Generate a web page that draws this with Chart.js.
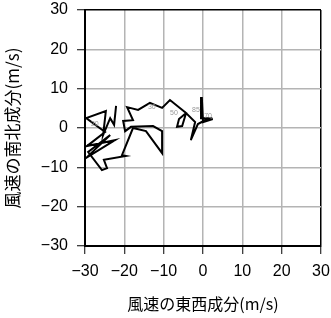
<!DOCTYPE html>
<html>
<head>
<meta charset="utf-8">
<script src="https://cdn.jsdelivr.net/npm/chart.js@4"></script>
<style>
  html, body { margin: 0; padding: 0; background: #fff; }
</style>
</head>
<body>
<canvas id="hodo" width="331" height="318"></canvas>
<script>
// hodograph: east-west (u) and north-south (v) wind components, m/s
let uWind = [1.0, 2.5, 0, -0.3, -0.5, 1.5, -1.3, -3.1, -2.0, -4.3, -5.3, -6.6, -6.1, -4.3,
    -8.4, -10.4, -13.5, -16.5, -19.3, -17.8, -20.3, -19.8, -18.3, -12.7, -10.4, -10.4,
    -14.5, -17.8, -20.6, -19.6, -25.2, -24.4, -25.7, -29.2, -23.6, -29.7, -22.4, -29.5,
    -24.9, -29.7, -24.7, -25.4, -23.6, -22.6, -22.1];
let vWind = [1.8, 2.3, 1.5, 7.9, 2.5, 2.5, 1.0, -3.1, 1.5, 3.8, 0.5, 0.3, 2.3, 3.8,
    7.1, 5.1, 6.4, 4.6, 5.3, 2.0, 1.8, -0.8, 0.3, 0.5, -0.8, -6.4,
    -0.8, 0, -6.9, -7.1, -8.1, -10.2, -10.7, -6.1, -1.8, -7.6, -3.1, -4.6,
    -1.0, 2.5, 4.3, -1.8, 2.5, 0.8, 5.6];
let levelNames = ['85', '70', '50', '30', '20'];
let levelU = [-1.8, 1.3, -7.4, -13, -27.5];
let levelV = [4.6, 3.1, 3.8, 5.3, 1.0];
let axisTicks = [-30, -20, -10, 0, 10, 20, 30];

let points = uWind.map((u, i) => ({ x: u, y: vWind[i] }));

let minus = v => v < 0 ? '\u2212' + Math.abs(v) : '' + v;
let gridColor = ctx => Math.abs(ctx.tick.value) === 30 ? '#000' : '#b4b4b4';

let levelLabels = {
    id: 'levelLabels',
    afterDatasetsDraw(chart) {
        let c = chart.ctx;
        let xs = chart.scales.x, ys = chart.scales.y;
        c.save();
        c.font = '7px "Liberation Sans"';
        c.fillStyle = '#999';
        c.textAlign = 'center';
        c.textBaseline = 'middle';
        levelNames.forEach((t, i) => {
            c.fillText(t, xs.getPixelForValue(levelU[i]), ys.getPixelForValue(levelV[i]));
        });
        c.restore();
    }
};

let hodoChart = new Chart(document.getElementById('hodo').getContext('2d'), {
    type: 'scatter',
    data: {
        datasets: [{
            data: points,
            showLine: true,
            borderColor: '#000',
            borderWidth: 2,
            pointRadius: 0,
            tension: 0
        }]
    },
    options: {
        responsive: false,
        animation: false,
        layout: { padding: { top: 10, right: 10, left: 0, bottom: 0 } },
        plugins: { legend: { display: false }, tooltip: { enabled: false } },
        scales: {
            x: {
                type: 'linear', min: -30, max: 30,
                afterBuildTicks: s => { s.ticks = axisTicks.map(v => ({ value: v })); },
                afterFit: s => { s.height = 72; s.paddingLeft = 0; s.paddingRight = 0; },
                grid: { color: gridColor, lineWidth: 1.5, tickColor: '#000', tickLength: 8, tickWidth: 1 },
                border: { color: '#000', width: 2 },
                ticks: { color: '#000', font: { family: '"Liberation Sans"', size: 16 }, padding: 8,
                    maxRotation: 0, autoSkip: false, callback: minus },
                title: { display: true, text: '風速の東西成分(m/s)', color: '#000',
                    font: { family: '"Noto Sans CJK JP"', size: 16 }, padding: { top: 8, bottom: 4 } }
            },
            y: {
                type: 'linear', min: -30, max: 30,
                afterBuildTicks: s => { s.ticks = axisTicks.map(v => ({ value: v })); },
                afterFit: s => { s.width = 85; s.paddingTop = 0; s.paddingBottom = 0; },
                grid: { color: gridColor, lineWidth: 1.5, tickColor: '#000', tickLength: 8, tickWidth: 1 },
                border: { color: '#000', width: 2 },
                ticks: { color: '#000', font: { family: '"Liberation Sans"', size: 16 }, padding: 9,
                    autoSkip: false, callback: minus },
                title: { display: true, text: '風速の南北成分(m/s)', color: '#000',
                    font: { family: '"Noto Sans CJK JP"', size: 17 }, padding: { top: 2, bottom: 2 } }
            }
        }
    },
    plugins: [levelLabels]
});
</script>
</body>
</html>
